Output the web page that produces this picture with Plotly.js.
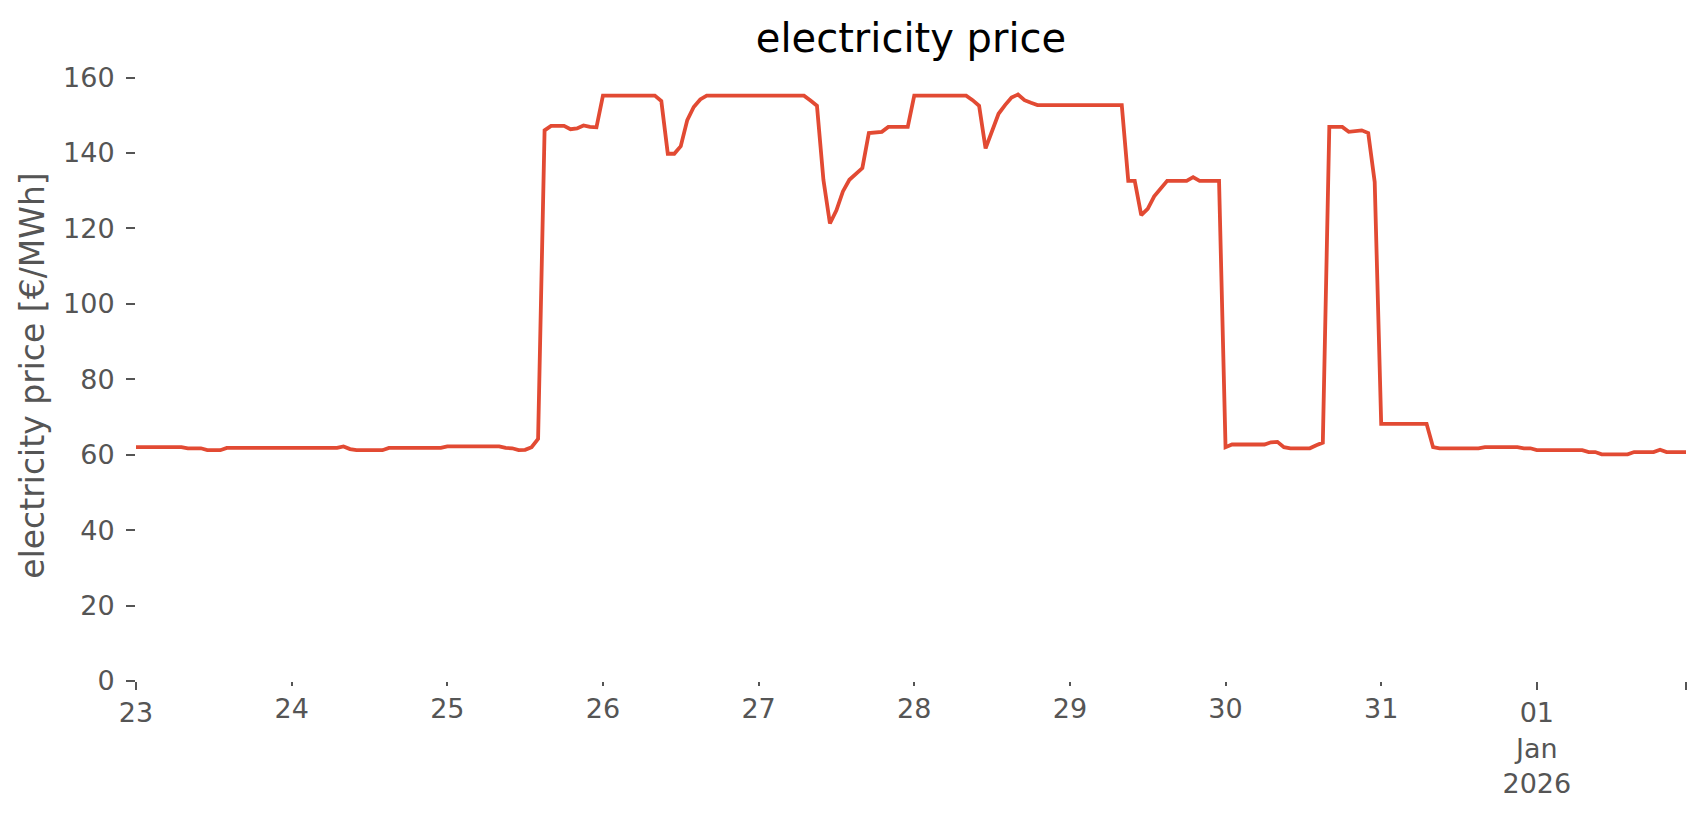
<!DOCTYPE html>
<html>
<head>
<meta charset="utf-8">
<script src="https://cdn.plot.ly/plotly-3.0.1.min.js"></script>
<style>html,body{margin:0;padding:0;background:#fff;}#chart{width:1706px;height:815px;}</style>
</head>
<body>
<div id="chart"></div>
<script>
// Hourly electricity price [€/MWh], one array of 24 hourly values per day
const days = ['2025-12-23','2025-12-24','2025-12-25','2025-12-26','2025-12-27',
              '2025-12-28','2025-12-29','2025-12-30','2025-12-31','2026-01-01'];

const dec23 = [62.0,62.0,62.0,62.0,62.0,62.0,62.0,62.0,61.7,61.7,61.7,61.2,
               61.2,61.2,61.8,61.8,61.8,61.8,61.8,61.8,61.8,61.8,61.8,61.8];
const dec24 = [61.8,61.8,61.8,61.8,61.8,61.8,61.8,61.8,62.2,61.5,61.2,61.2,
               61.2,61.2,61.2,61.8,61.8,61.8,61.8,61.8,61.8,61.8,61.8,61.8];
const dec25 = [62.2,62.2,62.2,62.2,62.2,62.2,62.2,62.2,62.2,61.8,61.7,61.2,
               61.3,62.0,64.2,146.0,147.2,147.2,147.2,146.3,146.5,147.3,146.9,146.8];
const dec26 = [155.2,155.2,155.2,155.2,155.2,155.2,155.2,155.2,155.2,153.8,139.8,139.8,
               141.8,148.7,152.2,154.2,155.2,155.2,155.2,155.2,155.2,155.2,155.2,155.2];
const dec27 = [155.2,155.2,155.2,155.2,155.2,155.2,155.2,155.2,153.9,152.5,132.8,121.3,
               124.8,129.8,132.9,134.5,136.0,145.3,145.4,145.6,146.9,146.9,146.9,146.9];
const dec28 = [155.2,155.2,155.2,155.2,155.2,155.2,155.2,155.2,155.2,154.0,152.5,141.2,
               145.6,150.4,152.7,154.7,155.5,154.0,153.3,152.7,152.7,152.7,152.7,152.7];
const dec29 = [152.7,152.7,152.7,152.7,152.7,152.7,152.7,152.7,152.7,132.6,132.6,123.5,
               125.2,128.5,130.5,132.6,132.6,132.6,132.6,133.6,132.6,132.6,132.6,132.6];
const dec30 = [62.0,62.7,62.7,62.7,62.7,62.7,62.7,63.3,63.4,62.0,61.7,61.7,
               61.7,61.7,62.5,63.2,146.9,146.9,146.9,145.6,145.7,146.0,145.3,132.3];
const dec31 = [68.2,68.2,68.2,68.2,68.2,68.2,68.2,68.2,62.0,61.7,61.7,61.7,
               61.7,61.7,61.7,61.7,62.0,62.0,62.0,62.0,62.0,62.0,61.7,61.7];
const jan01 = [61.2,61.2,61.2,61.2,61.2,61.2,61.2,61.2,60.7,60.7,60.1,60.1,
               60.1,60.1,60.1,60.7,60.7,60.7,60.7,61.3,60.7,60.7,60.7,60.7];

const dailyPrices = [dec23,dec24,dec25,dec26,dec27,dec28,dec29,dec30,dec31,jan01];

// x tick labels: minor (day) ticks and major ticks
const minorTickVals = ['2025-12-24','2025-12-25','2025-12-26','2025-12-27',
                       '2025-12-28','2025-12-29','2025-12-30','2025-12-31'];
const minorTickText = ['24','25','26','27','28','29','30','31'];
const majorTickVals = ['2025-12-23','2026-01-01','2026-01-01 23:00'];
const majorTickText = ['23','01<br>Jan<br>2026',''];
const yTickVals = [0,20,40,60,80,100,120,140,160];

// build hourly series
const times = [], prices = [];
days.forEach((d, i) => {
  dailyPrices[i].forEach((v, h) => {
    times.push(d + ' ' + String(h).padStart(2,'0') + ':00');
    prices.push(v);
  });
});

const xRange = [times[0], times[times.length-1]];
const tickColor = '#555555';
const font = 'DejaVu Sans, sans-serif';

const traces = [
  {x: times, y: prices, type: 'scatter', mode: 'lines',
   line: {color: '#E24A33', width: 3.8}, showlegend: false, hoverinfo: 'x+y'},
  {x: [], y: [], type: 'scatter', mode: 'lines', xaxis: 'x2', yaxis: 'y',
   showlegend: false, hoverinfo: 'skip'}
];

const layout = {
  width: 1706, height: 815,
  margin: {l: 136, r: 20, t: 70, b: 134},
  paper_bgcolor: '#ffffff', plot_bgcolor: '#ffffff',
  font: {family: font, color: tickColor},
  showlegend: false,
  title: {text: 'electricity price', font: {family: font, size: 40, color: '#000000'},
          x: 0.5, xref: 'paper', xanchor: 'center', y: 1 - 38/815, yref: 'container', yanchor: 'middle'},
  xaxis: {
    type: 'date', range: xRange,
    tickmode: 'array', tickvals: minorTickVals, ticktext: minorTickText,
    ticks: 'outside', ticklen: 4, tickwidth: 2, tickcolor: tickColor,
    tickfont: {family: font, size: 27, color: tickColor},
    showgrid: false, zeroline: false, showline: false
  },
  xaxis2: {
    type: 'date', range: xRange, overlaying: 'x', anchor: 'y', side: 'bottom',
    tickmode: 'array', tickvals: majorTickVals, ticktext: majorTickText,
    ticks: 'outside', ticklen: 8, tickwidth: 2, tickcolor: tickColor,
    tickfont: {family: font, size: 27, color: tickColor},
    showgrid: false, zeroline: false, showline: false
  },
  yaxis: {
    range: [0, 162],
    tickmode: 'array', tickvals: yTickVals,
    ticks: 'outside', ticklen: 9, tickwidth: 2, tickcolor: tickColor,
    ticklabelstandoff: 6,
    tickfont: {family: font, size: 27, color: tickColor},
    showgrid: false, zeroline: false, showline: false,
    title: {text: 'electricity price [€/MWh]', font: {family: font, size: 33, color: tickColor}, standoff: 8}
  }
};

Plotly.newPlot('chart', traces, layout, {displayModeBar: false, staticPlot: true});
</script>
</body>
</html>
